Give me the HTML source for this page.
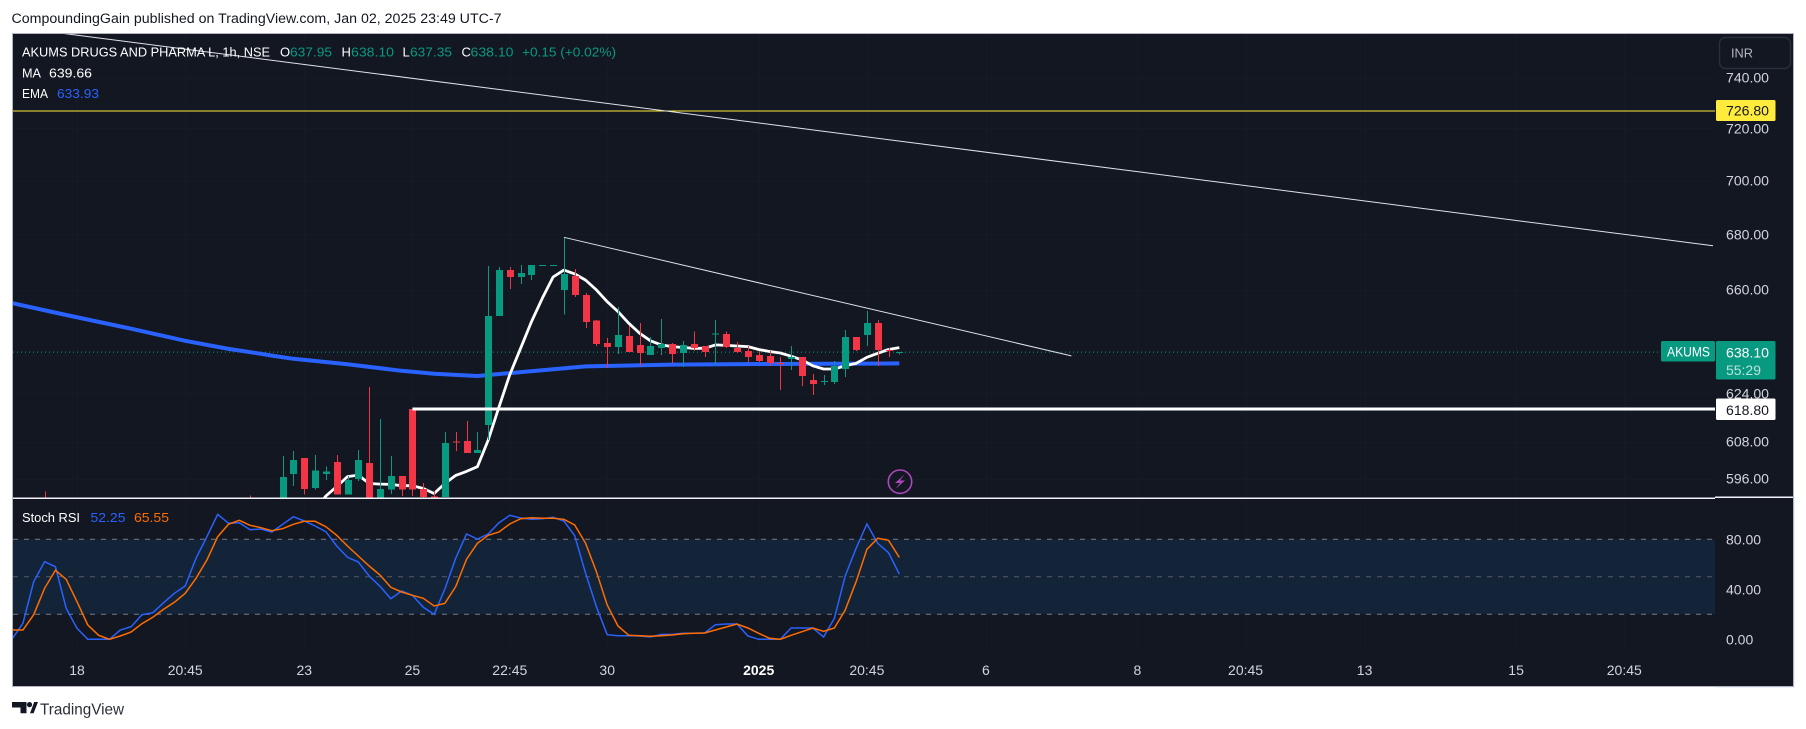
<!DOCTYPE html>
<html lang="en">
<head>
<meta charset="utf-8">
<title>AKUMS chart</title>
<style>
html,body{margin:0;padding:0;background:#fff;width:1806px;height:729px;overflow:hidden}
svg{display:block;font-family:"Liberation Sans",sans-serif}
</style>
</head>
<body>
<svg id="chart" xmlns="http://www.w3.org/2000/svg" width="1806" height="729" viewBox="0 0 1806 729">
  <defs>
    <clipPath id="main-clip"><rect x="13" y="34" width="1702" height="464"/></clipPath>
    <clipPath id="stoch-clip"><rect x="13" y="499" width="1702" height="187"/></clipPath>
  </defs>
  <text x="11.5" y="23" font-size="13.5" fill="#131722" textLength="490" lengthAdjust="spacingAndGlyphs">CompoundingGain published on TradingView.com, Jan 02, 2025 23:49 UTC-7</text>
  <rect x="1715" y="497" width="80" height="191" fill="#f0f3fa"/>
  <rect x="12.5" y="33.5" width="1781" height="653" fill="#131722" stroke="#b2b5be" stroke-width="1"/>
  <g id="grid"></g>
  <g id="stoch-pane" clip-path="url(#stoch-clip)"></g>
  <g id="main-pane" clip-path="url(#main-clip)"></g>
  <rect x="13" y="497.5" width="1702" height="1.5" fill="#f0f3fa"/>
  <rect x="1715" y="496.5" width="78" height="1.5" fill="#f0f3fa"/>

  <g id="legend" font-size="13">
    <text x="22" y="56.5" fill="#ffffff" textLength="248" lengthAdjust="spacingAndGlyphs">AKUMS DRUGS AND PHARMA L, 1h, NSE</text>
    <text x="280" y="56.5" fill="#ffffff">O</text>
    <text x="290" y="56.5" fill="#089981" textLength="42" lengthAdjust="spacingAndGlyphs">637.95</text>
    <text x="341.5" y="56.5" fill="#ffffff">H</text>
    <text x="351" y="56.5" fill="#089981" textLength="43" lengthAdjust="spacingAndGlyphs">638.10</text>
    <text x="402.5" y="56.5" fill="#ffffff">L</text>
    <text x="410" y="56.5" fill="#089981" textLength="42" lengthAdjust="spacingAndGlyphs">637.35</text>
    <text x="461.5" y="56.5" fill="#ffffff">C</text>
    <text x="470.5" y="56.5" fill="#089981" textLength="43" lengthAdjust="spacingAndGlyphs">638.10</text>
    <text x="522" y="56.5" fill="#089981" textLength="94" lengthAdjust="spacingAndGlyphs">+0.15 (+0.02%)</text>
    <text x="22" y="77.5" fill="#ffffff" textLength="19" lengthAdjust="spacingAndGlyphs">MA</text>
    <text x="49" y="77.5" fill="#ffffff" textLength="43" lengthAdjust="spacingAndGlyphs">639.66</text>
    <text x="22" y="98" fill="#ffffff" textLength="26" lengthAdjust="spacingAndGlyphs">EMA</text>
    <text x="57" y="98" fill="#2962ff" textLength="42" lengthAdjust="spacingAndGlyphs">633.93</text>
    <text x="22" y="522" fill="#ffffff" textLength="58" lengthAdjust="spacingAndGlyphs">Stoch RSI</text>
    <text x="90.5" y="522" fill="#2962ff" textLength="35" lengthAdjust="spacingAndGlyphs">52.25</text>
    <text x="134" y="522" fill="#ff6d00" textLength="35" lengthAdjust="spacingAndGlyphs">65.55</text>
  </g>

  <g id="axis-labels"></g>

  <g>
    <rect x="1719.5" y="37.5" width="71" height="31" rx="6" fill="#131722" stroke="#2a2e39" stroke-width="1.5"/>
    <text x="1731" y="57.5" font-size="13" fill="#b2b5be" textLength="22" lengthAdjust="spacingAndGlyphs">INR</text>
  </g>

  <g>
    <rect x="1716" y="100" width="59.5" height="21" rx="1.5" fill="#ffeb3b"/>
    <text x="1726" y="115.5" font-size="14" fill="#131722" textLength="43" lengthAdjust="spacingAndGlyphs">726.80</text>
  </g>
  <g>
    <rect x="1661" y="341" width="54" height="20.5" rx="1.5" fill="#089981"/>
    <text x="1667" y="356.5" font-size="13.5" fill="#ffffff" textLength="43" lengthAdjust="spacingAndGlyphs">AKUMS</text>
  </g>
  <g>
    <rect x="1716" y="341" width="59.5" height="38.5" rx="1.5" fill="#089981"/>
    <text x="1726" y="357.5" font-size="14" fill="#ffffff" textLength="43" lengthAdjust="spacingAndGlyphs">638.10</text>
    <text x="1726" y="375" font-size="14" fill="#ffffff" fill-opacity="0.72" textLength="35" lengthAdjust="spacingAndGlyphs">55:29</text>
  </g>
  <g>
    <rect x="1716" y="398.5" width="59.5" height="21.5" rx="1.5" fill="#ffffff"/>
    <text x="1726" y="415" font-size="14" fill="#131722" textLength="43" lengthAdjust="spacingAndGlyphs">618.80</text>
  </g>

  <g>
    <circle cx="900" cy="481.7" r="11.7" fill="none" stroke="#ab47bc" stroke-width="1.6"/>
    <path d="M904.5 474.5 L895 483 L900 483 L895.5 489 L905 480.5 L900 480.5 Z" fill="#ab47bc"/>
  </g>

  <g>
    <path d="M12 702 H26.5 V713.3 H20.5 V707.5 H12 Z" fill="#131722"/>
    <circle cx="29.5" cy="704.6" r="2.6" fill="#131722"/>
    <path d="M30 713.3 L34.2 702 H38 L33.6 713.3 Z" fill="#131722"/>
    <text x="40" y="714.5" font-size="16" fill="#2a2e39" textLength="84" lengthAdjust="spacingAndGlyphs">TradingView</text>
  </g>
</svg>
<script>
// ---- chart data -------------------------------------------------------
const barSlots = [-22,-3,0,1,2,3,4,5,6,7,8,9,10,11,12,13,14,15,16,17,18,19,20,21,22,23,24,25,26,27,28,29,30,31,32,33,34,35,36,37,38,39,40,41,42,43,44,45,46,47,48,49,50,51,52,53,54,55,56,57];
const opens = [586,586,586,597.5,602.6,593,597.4,601.3,590.8,595.8,601,584,592.4,596.8,618.8,592.7,590.3,590.1,608,608.2,604.2,613.4,650.7,667,664.5,665.2,668.6,668.6,659.9,664.8,658.1,649,641.3,639.9,643.7,640.6,637.1,639.5,640.9,637.8,640.9,640.2,644.3,644.4,639.5,638.4,637.1,636.7,634.3,635.7,636.4,628.6,628.1,627.9,632.3,643.3,644,648.2,638.9,637.95];
const highs = [591.8,590.5,603.3,604.9,602.6,603.6,599.9,603.6,596.8,605.2,626.2,615.4,603.3,596.8,618.8,594.5,591.8,611.2,611.2,614.8,611.2,668.4,668.1,668.1,668.8,668.8,668.8,668.8,678.9,667.4,658.8,649.3,643,653.8,647.1,648.2,643.3,649.6,641.3,642,645.3,640.2,649.3,645.3,641.6,640.2,638.4,638.4,636.4,640.2,636.4,630.6,630.2,635,645.7,643.3,652.4,649.3,639.5,638.1];
const lows = [580,580,584,593.6,590.8,592.4,595.5,590.8,590.8,595.2,583,582,591.1,590.4,590.4,589.6,589.5,590.1,604.9,604.2,604.2,608.5,650.7,660.2,662,663.4,668.6,668.6,651.2,657.4,646.5,640.2,632.7,637.4,638.1,633.4,637.1,637.1,634.3,633,638.4,636.4,633.7,639.5,637.8,634.7,634.7,633.4,625.2,632,626.6,623.5,626.9,627.2,629.6,638.4,640.2,633.4,636.4,637.35];
const closes = [583,583,596.5,602,592.7,598.6,598.3,590.8,595.5,602,585,592.7,596.8,592.4,592.4,590.1,590.1,607.5,607.8,604.2,605.2,650.7,667,664.5,665.9,668.8,668.8,668.8,665.5,658.1,648.6,640.9,639.9,644,638.1,637.8,640.2,640.9,637.4,640.6,639.5,638.1,644.5,639.9,638.1,636.4,635,634.3,634.1,636.4,629.9,627.2,628.3,633.4,643.3,638.8,648.2,638.8,638.7,638.1];
const maStartBar = 3;
const maValues = [586,590.4,593.4,596.6,597.1,594.4,594.2,594.1,593.7,593.7,592.8,591.2,594.4,597,598.3,599.8,608.5,619.5,630.4,639.4,648.7,656.9,664.5,667,665.6,663.4,659.9,655.7,652.2,648.1,644.6,642,640.6,640,639.7,639.4,639.4,640.6,640.4,640.2,640,639,638.3,637.8,636.7,635.4,633.4,632.3,632.3,633.4,634.2,636.3,637.7,639,639.66];
const emaBars = [-25,-20,-14,-9,-5,-2,-1,1,6,11,14,18,21,28,36,45,57];
const emaValues = [655.2,651,646.2,642,639.2,637.5,636.9,635.8,633.9,631.7,630.7,629.9,630.9,633.2,633.8,634,634.2];
const stochStartBar = -25;
const stochK = [0.2,12.8,46.1,62.1,58.1,24.8,8.8,0,0,0,7.4,10.1,19.7,21.3,29.3,36.8,42.6,64.8,82.1,100,92.8,93.3,87.7,88.2,85.8,92,98.1,94.6,90.6,86.1,74.6,65.6,61.8,50.6,42.4,32.5,38.6,35.2,25.6,20,40.2,64.8,84.2,80.2,84.2,93.3,99.2,97,96,96.5,97.6,94.6,82.9,52.8,26.1,3.7,2.9,2.9,2.6,1.8,3.9,3.9,4.8,4.8,5,11.7,12.2,12.2,2.6,0,0,0,9,9,9,1.8,16.8,50.6,72.8,92.2,76.8,69.3,52.25];
const stochD = [7.4,7.4,19.7,40.8,55.2,48,30.1,11.4,3.2,0,2.6,5.8,12.5,17.6,24,29.6,36.8,48.8,63.4,82.1,92,95.2,91.2,89.3,86.9,88.5,92,94.4,94.4,90.1,83.2,74.6,66.6,58.6,51.4,41.6,37.8,35.2,32.8,26.6,28.8,42.1,64,76.8,83.2,85.8,92.2,96.5,97.3,96.8,96.8,96,91.4,76.8,54.1,27.4,10.6,3.2,2.9,2.4,2.9,3.4,4.5,4.8,5,7.4,9.8,12.2,9,4.8,0.8,0,3.2,6.1,9,6.4,9,23.4,46.1,72,80.8,79.2,65.55];
const priceTicks = [740,720,700,680,660,624,608,596];
const stochTicks = [80,40,0];
const stochBands = [80,50,20];
const timeTickBars = [-19,-9,2,12,21,30,44,54,65,79,89,100,114,124];
const timeTickLabels = ['18','20:45','23','25','22:45','30','2025','20:45','6','8','20:45','13','15','20:45'];
const lastPrice = 638.10;
const alertPrice = 726.80;
const supportPrice = 618.80;
const supportStartBar = 12;
const longTrendBars = [-20.6,132.2];
const longTrendPrices = [758.1,675.8];
const shortTrendBars = [26,72.9];
const shortTrendPrices = [678.9,636.8];

// ---- axis functions ---------------------------------------------------
const PANE_LEFT = 13, PANE_RIGHT = 1715;
function barX(i){ return 282.6 + 10.82 * i; }
function priceY(p){ return 478.5 - (Math.log(p) - Math.log(596)) * 1852; }
function stochY(v){ return 639.3 - 1.25 * v; }
const SVGNS = 'http://www.w3.org/2000/svg';
function make(tag, attrs, parent){
  const el = document.createElementNS(SVGNS, tag);
  for (const k in attrs) el.setAttribute(k, attrs[k]);
  parent.appendChild(el);
  return el;
}
function pathFrom(xs, ys){
  return xs.map((x, i) => (i ? 'L' : 'M') + x.toFixed(1) + ' ' + ys[i].toFixed(1)).join(' ');
}

const grid = document.getElementById('grid');
const main = document.getElementById('main-pane');
const stoch = document.getElementById('stoch-pane');
const labels = document.getElementById('axis-labels');

// ---- grid -------------------------------------------------------------
timeTickBars.forEach(function(b){
  const x = Math.round(barX(b)) + 0.5;
  const el = make('line', {x1:x, x2:x, y1:34, y2:652, stroke:'#161a25', 'stroke-width':1}, grid);
  
  
});
priceTicks.forEach(function(p){
  const y = Math.round(priceY(p)) + 0.5;
  const el = make('line', {x1:PANE_LEFT, x2:PANE_RIGHT, y1:y, y2:y, stroke:'#161a25', 'stroke-width':1}, grid);
  
  
});

// ---- price pane -------------------------------------------------------
const alertLine = make('line', {x1:PANE_LEFT, x2:PANE_RIGHT, y1:priceY(alertPrice), y2:priceY(alertPrice), stroke:'#ffeb3b', 'stroke-width':1}, main);



const lastLine = make('line', {x1:PANE_LEFT, x2:PANE_RIGHT, y1:priceY(lastPrice), y2:priceY(lastPrice), stroke:'#089981', 'stroke-width':1, 'stroke-dasharray':'1 3'}, main);



const emaLine = make('path', {d:pathFrom(emaBars.map(barX), emaValues.map(priceY)), fill:'none', stroke:'#2962ff', 'stroke-width':4, 'stroke-linejoin':'round'}, main);



const maLine = make('path', {d:pathFrom(maValues.map((v, i) => barX(maStartBar + i)), maValues.map(priceY)), fill:'none', stroke:'#ffffff', 'stroke-width':2.8, 'stroke-linejoin':'round'}, main);



barSlots.forEach(function(slot, i){
  const up = closes[i] >= opens[i];
  const color = up ? '#089981' : '#f23645';
  const cx = Math.round(barX(slot));
  const top = priceY(Math.max(opens[i], closes[i]));
  const bot = priceY(Math.min(opens[i], closes[i]));
  const g = make('g', {'shape-rendering':'crispEdges'}, main);
  
  
  make('rect', {x:cx, y:priceY(highs[i]), width:1, height:Math.max(1, priceY(lows[i]) - priceY(highs[i])), fill:color}, g);
  make('rect', {x:cx - 3, y:top, width:7, height:Math.max(1, bot - top), fill:color}, g);
});

const supportLine = make('line', {x1:barX(supportStartBar), x2:PANE_RIGHT, y1:priceY(supportPrice), y2:priceY(supportPrice), stroke:'#ffffff', 'stroke-width':3}, main);



const longTrend = make('line', {x1:barX(longTrendBars[0]), x2:barX(longTrendBars[1]), y1:priceY(longTrendPrices[0]), y2:priceY(longTrendPrices[1]), stroke:'#dfe2ea', 'stroke-width':1}, main);



const shortTrend = make('line', {x1:barX(shortTrendBars[0]), x2:barX(shortTrendBars[1]), y1:priceY(shortTrendPrices[0]), y2:priceY(shortTrendPrices[1]), stroke:'#dfe2ea', 'stroke-width':1}, main);



// ---- stoch pane -------------------------------------------------------
const band = make('rect', {x:PANE_LEFT, y:stochY(stochBands[0]), width:PANE_RIGHT - PANE_LEFT, height:stochY(stochBands[2]) - stochY(stochBands[0]), fill:'#132338'}, stoch);



stochBands.forEach(function(v, i){
  const el = make('line', {x1:PANE_LEFT, x2:PANE_RIGHT, y1:stochY(v), y2:stochY(v), stroke:i === 1 ? '#585c68' : '#787b86', 'stroke-width':1, 'stroke-dasharray':'5 6'}, stoch);
  
  
});

const kLine = make('path', {d:pathFrom(stochK.map((v, i) => barX(stochStartBar + i)), stochK.map(stochY)), fill:'none', stroke:'#2962ff', 'stroke-width':1.5}, stoch);



const dLine = make('path', {d:pathFrom(stochD.map((v, i) => barX(stochStartBar + i)), stochD.map(stochY)), fill:'none', stroke:'#ff6d00', 'stroke-width':1.5}, stoch);



// ---- axis labels ------------------------------------------------------
priceTicks.forEach(function(p){
  const t = make('text', {x:1726, y:priceY(p) + 5, 'font-size':14, fill:'#d1d4dc', textLength:43, lengthAdjust:'spacingAndGlyphs'}, labels);
  
  
  t.textContent = p.toFixed(2);
});
stochTicks.forEach(function(v){
  const t = make('text', {x:1726, y:stochY(v) + 5, 'font-size':14, fill:'#d1d4dc'}, labels);
  
  
  t.textContent = v.toFixed(2);
});
timeTickBars.forEach(function(b, i){
  const isYear = timeTickLabels[i] === '2025';
  const t = make('text', {x:barX(b), y:675, 'font-size':14, 'text-anchor':'middle', fill:isYear ? '#ffffff' : '#d1d4dc', 'font-weight':isYear ? 'bold' : 'normal'}, labels);
  
  
  t.textContent = timeTickLabels[i];
});
</script>
</body>
</html>
